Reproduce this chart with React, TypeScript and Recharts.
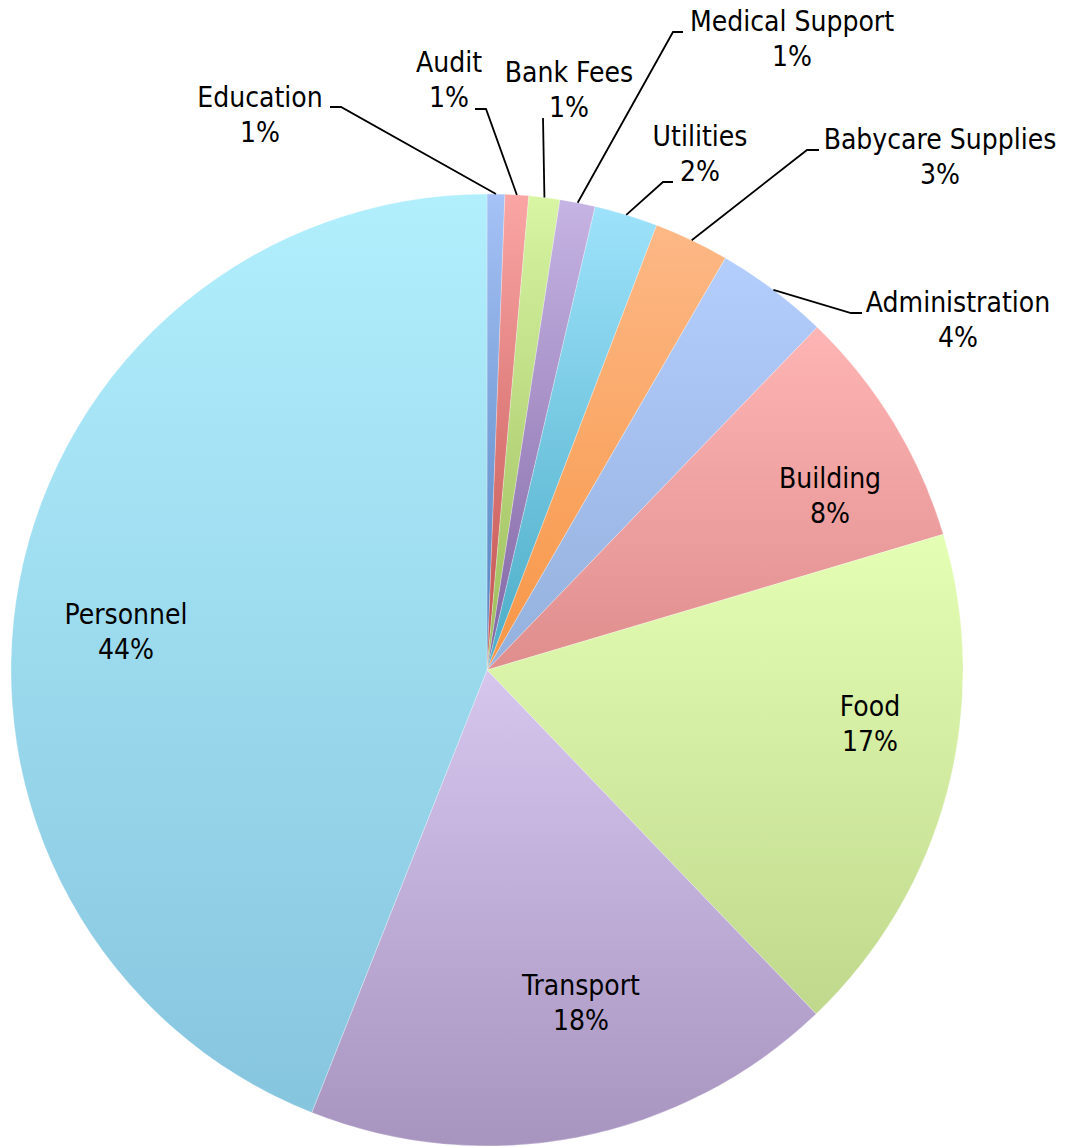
import { PieChart, Pie, Cell } from 'recharts';

// Budget shares, clockwise from 12 o'clock
const CATEGORIES = [
  'Education',
  'Audit',
  'Bank Fees',
  'Medical Support',
  'Utilities',
  'Babycare Supplies',
  'Administration',
  'Building',
  'Food',
  'Transport',
  'Personnel',
];
const VALUES = [0.6, 0.8, 1.05, 1.2, 2.15, 2.55, 3.85, 8.2, 17.45, 18.15, 44.0];

// gradient stops per slice (top -> bottom)
const TOP_COLORS = [
  '#a6c2f6', '#faa6a5', '#d7f5a3', '#c6b4e4', '#9ee2fb', '#fdb886',
  '#b3cdfd', '#ffb5b5', '#e4feb4', '#d6c6ee', '#b1effd',
];
const BOTTOM_COLORS = [
  '#4f81bd', '#c0504d', '#9bbb59', '#8064a2', '#4bacc6', '#f79646',
  '#94b0dc', '#df8d8d', '#bfd88c', '#a794bf', '#86c5de',
];

// label placement relative to pie centre: text centre, and for outside labels the
// point where the leader leaves the text plus its elbow
type LabelSpot = { tx: number; ty: number; ax?: number; ay?: number; ex?: number; ey?: number };
const LABEL_SPOTS: Record<string, LabelSpot> = {
  Education: { tx: -227, ty: -555, ax: -157, ay: -563, ex: -146, ey: -563 },
  Audit: { tx: -38, ty: -590, ax: -12, ay: -561, ex: -1, ey: -561 },
  'Bank Fees': { tx: 82, ty: -580, ax: 56, ay: -552, ex: 56, ey: -552 },
  'Medical Support': { tx: 305, ty: -631, ax: 196, ay: -638, ex: 186, ey: -638 },
  Utilities: { tx: 213, ty: -516, ax: 186, ay: -488, ex: 176, ey: -488 },
  'Babycare Supplies': { tx: 453, ty: -513, ax: 332, ay: -520, ex: 320, ey: -520 },
  Administration: { tx: 471, ty: -350, ax: 375, ay: -357, ex: 364, ey: -357 },
  Building: { tx: 343, ty: -174 },
  Food: { tx: 383, ty: 54 },
  Transport: { tx: 94, ty: 333 },
  Personnel: { tx: -361, ty: -38 },
};

const data = CATEGORIES.map((name, i) => ({ name, value: VALUES[i] }));

const RADIAN = Math.PI / 180;
const FONT = '"DejaVu Sans Condensed", "DejaVu Sans", sans-serif';

const renderLabel = (props: any) => {
  const { cx, cy, midAngle, outerRadius, percent, name } = props;
  const spot = LABEL_SPOTS[name];
  if (!spot) return null;
  const x = cx + spot.tx;
  const y = cy + spot.ty;
  let line = null;
  if (spot.ax !== undefined) {
    // leader starts on the slice edge at its middle angle
    const px = cx + outerRadius * Math.cos(-midAngle * RADIAN);
    const py = cy + outerRadius * Math.sin(-midAngle * RADIAN);
    const pts = `${cx + spot.ax},${cy + spot.ay} ${cx + spot.ex!},${cy + spot.ey!} ${px},${py}`;
    line = <polyline points={pts} fill="none" stroke="#000" strokeWidth={1.8} />;
  }
  return (
    <g key={`lbl-${name}`}>
      {line}
      <text
        x={x}
        y={y}
        textAnchor="middle"
        fontFamily={FONT}
        fontSize={28}
        fill="#000"
      >
        <tspan x={x} dy={-8}>{name}</tspan>
        <tspan x={x} dy={35}>{`${Math.round(percent * 100)}%`}</tspan>
      </text>
    </g>
  );
};

export default function App() {
  return (
    <div style={{ position: 'absolute', left: 0, top: 0, width: 1070, height: 1147, background: '#fff' }}>
      <svg width={0} height={0} style={{ position: 'absolute' }}>
        <defs>
          {CATEGORIES.map((c, i) => (
            <linearGradient key={c} id={`slice-grad-${i}`} x1="0" y1="0" x2="0" y2="1">
              <stop offset="0%" stopColor={TOP_COLORS[i]} />
              <stop offset="100%" stopColor={BOTTOM_COLORS[i]} />
            </linearGradient>
          ))}
        </defs>
      </svg>
      <PieChart width={1070} height={1147} margin={{ top: 0, right: 0, bottom: 0, left: 0 }}>
        <Pie
          data={data}
          dataKey="value"
          nameKey="name"
          cx={487}
          cy={670}
          outerRadius={476}
          startAngle={90}
          endAngle={-270}
          stroke="rgba(255,255,255,0.5)"
          strokeWidth={0.5}
          label={renderLabel}
          labelLine={false}
          isAnimationActive={false}
        >
          {data.map((d, i) => (
            <Cell key={d.name} fill={`url(#slice-grad-${i})`} />
          ))}
        </Pie>
      </PieChart>
    </div>
  );
}
